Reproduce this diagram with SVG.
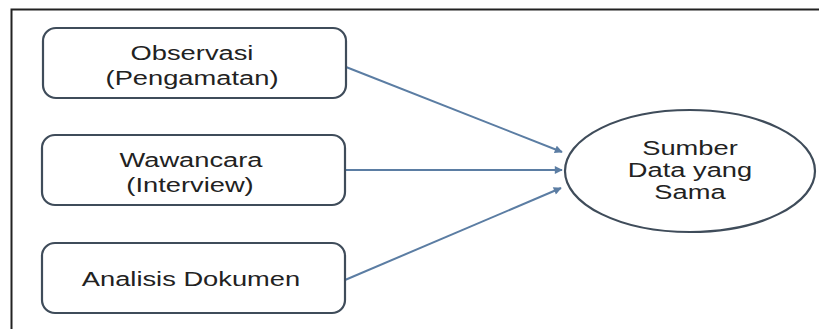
<svg xmlns="http://www.w3.org/2000/svg" width="819" height="329" viewBox="0 0 819 329">
<style>
.box{fill:#fff;stroke:#3f4c5a;stroke-width:2.2}
.ell{fill:#fff;stroke:#3f4c5a;stroke-width:2.2}
.lbl{font-family:"Liberation Sans",Arial,sans-serif;font-size:21px;fill:#222;text-anchor:middle}
.con{stroke:#5b7da3;stroke-width:2;fill:none;marker-end:url(#ah)}
.frame{stroke:#222;stroke-width:2;fill:none}
</style>
<defs>
<marker id="ah" viewBox="0 0 10 10" refX="9" refY="5" markerWidth="4.5" markerHeight="4" orient="auto" markerUnits="strokeWidth">
<path d="M0,0 L10,5 L0,10 z" fill="#5b7da3"/>
</marker>
</defs>
<rect width="819" height="329" fill="#fff"/>
<path class="frame" d="M11.5,329 V9.5 H819"/>
<g id="connectors">
<line class="con" x1="346" y1="67" x2="562" y2="152"/>
<line class="con" x1="345" y1="170" x2="562" y2="170"/>
<line class="con" x1="345" y1="280" x2="561" y2="188"/>
</g>
<g id="node-observasi">
<rect class="box" x="43" y="28" width="303" height="70" rx="13"/>
<text class="lbl" transform="matrix(1.3 0 0 1 192 60)">Observasi</text>
<text class="lbl" transform="matrix(1.3 0 0 1 192 85)">(Pengamatan)</text>
</g>
<g id="node-wawancara">
<rect class="box" x="42" y="135" width="303" height="70" rx="13"/>
<text class="lbl" transform="matrix(1.3 0 0 1 191 167)">Wawancara</text>
<text class="lbl" transform="matrix(1.3 0 0 1 190 192)">(Interview)</text>
</g>
<g id="node-analisis">
<rect class="box" x="42" y="243" width="303" height="70" rx="13"/>
<text class="lbl" transform="matrix(1.3 0 0 1 191 286)">Analisis Dokumen</text>
</g>
<g id="node-sumber">
<ellipse class="ell" cx="690" cy="171" rx="125" ry="61"/>
<text class="lbl" transform="matrix(1.3 0 0 1 690 155)">Sumber</text>
<text class="lbl" transform="matrix(1.3 0 0 1 690 177)">Data yang</text>
<text class="lbl" transform="matrix(1.3 0 0 1 690 199)">Sama</text>
</g>
</svg>
